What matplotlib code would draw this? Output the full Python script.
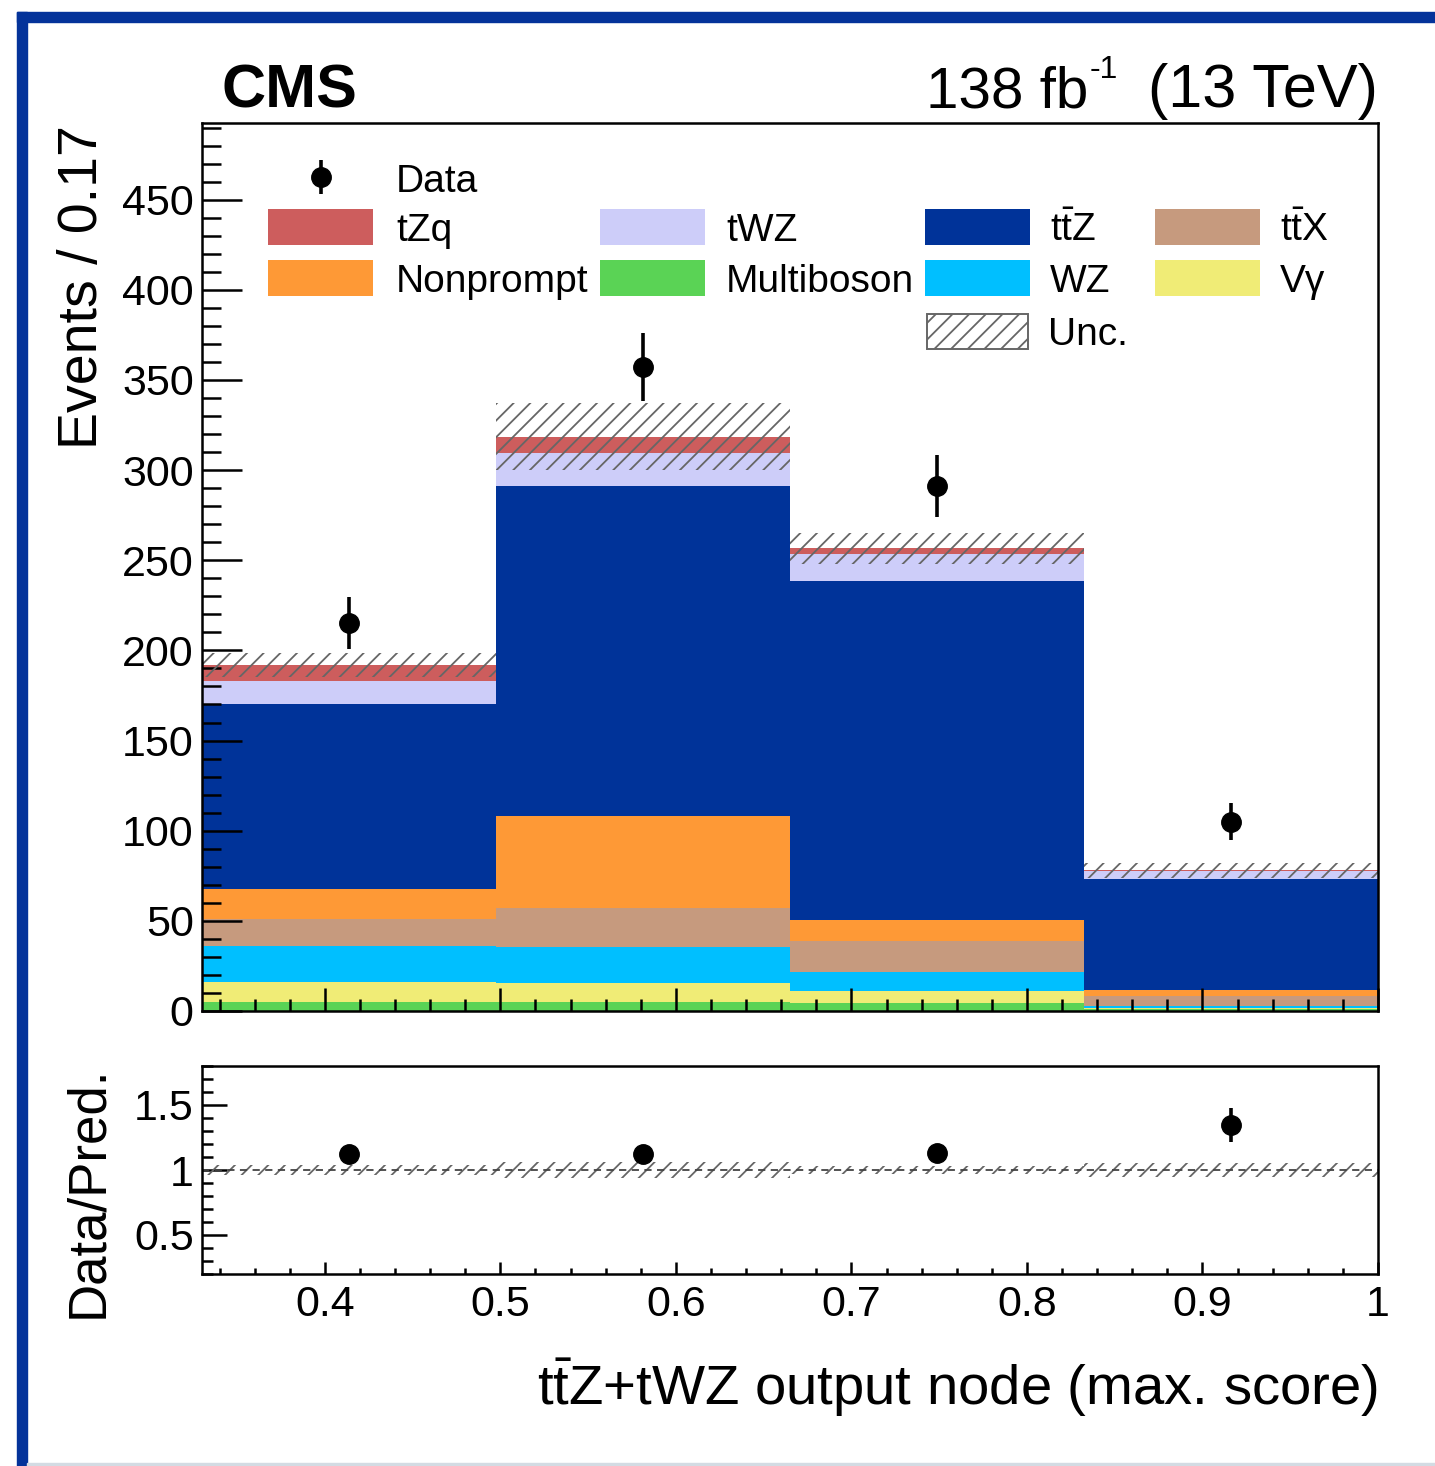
import numpy as np
import matplotlib
matplotlib.use("Agg")
import matplotlib.pyplot as plt
from matplotlib.patches import Rectangle
from matplotlib.ticker import MultipleLocator

plt.rcParams['font.family'] = ['Liberation Sans', 'DejaVu Sans']
plt.rcParams['mathtext.fontset'] = 'custom'
plt.rcParams['mathtext.rm'] = 'Liberation Sans'
plt.rcParams['mathtext.it'] = 'Liberation Sans:italic'
plt.rcParams['mathtext.bf'] = 'Liberation Sans:bold'
plt.rcParams['hatch.linewidth'] = 1.3

# binning of the classifier output
edges = [0.33, 0.4975, 0.665, 0.8325, 1.0]

# background / signal yields per bin (stack order, bottom -> top)
multiboson = [5.0, 5.0, 4.6, 0.9]
vgamma = [11.3, 10.7, 6.5, 0.8]
wz = [19.7, 20.0, 10.7, 1.2]
ttx = [15.0, 21.3, 17.0, 5.6]
nonprompt = [16.7, 51.1, 11.7, 3.1]
ttz = [102.6, 183.0, 188.0, 61.6]
twz = [12.7, 18.6, 15.0, 4.4]
tzq = [9.0, 8.8, 3.1, 0.4]

# total prediction uncertainty
unc = [6.8, 18.6, 8.5, 4.2]

# observed data
data = [215.0, 357.0, 291.0, 105.0]
data_err = [14.5, 18.9, 17.1, 10.2]

c_multiboson = '#5ad355'
c_vgamma = '#f0ec76'
c_wz = '#00bfff'
c_ttx = '#c69a7e'
c_nonprompt = '#fe9936'
c_ttz = '#003399'
c_twz = '#cdcdf9'
c_tzq = '#cd5d5d'
c_frame = '#04339a'
c_hatch = '#666666'

stack = [
    (multiboson, c_multiboson),
    (vgamma, c_vgamma),
    (wz, c_wz),
    (ttx, c_ttx),
    (nonprompt, c_nonprompt),
    (ttz, c_ttz),
    (twz, c_twz),
    (tzq, c_tzq),
]

W, H = 1435, 1466
fig = plt.figure(figsize=(W / 100, H / 100), dpi=100)

# outer frame (left and top bars)
fig.patches.append(Rectangle((17 / W, 0), 10 / W, 1 - 12 / H, transform=fig.transFigure,
                             color=c_frame, zorder=0))
fig.patches.append(Rectangle((17 / W, 1 - 22 / H), 1 - 17 / W, 10 / H, transform=fig.transFigure,
                             color=c_frame, zorder=0))
fig.patches.append(Rectangle((27 / W, 0), 1 - 27 / W, 3 / H, transform=fig.transFigure,
                             color='#d3dbe3', zorder=0))

ax = fig.add_axes([202 / W, 1 - 1011 / H, 1176 / W, 888 / H])
axr = fig.add_axes([202 / W, 1 - 1274 / H, 1176 / W, 208 / H])

edges_a = np.array(edges)
centers = 0.5 * (edges_a[1:] + edges_a[:-1])

bottom = np.zeros(len(data))
for vals, col in stack:
    vals = np.array(vals)
    ax.stairs(bottom + vals, edges_a, baseline=bottom, fill=True, color=col, lw=0)
    bottom = bottom + vals
total = bottom
unc_a = np.array(unc)

ax.stairs(total + unc_a, edges_a, baseline=total - unc_a, fill=True, facecolor='none',
          edgecolor=c_hatch, hatch='//', lw=0, zorder=3)

ax.errorbar(centers, data, yerr=data_err, fmt='o', color='k', ms=14,
            elinewidth=2.6, capsize=0, zorder=5)

ax.set_xlim(0.33, 1.0)
ax.set_ylim(0, 492.5)
ax.yaxis.set_major_locator(MultipleLocator(50))
ax.yaxis.set_minor_locator(MultipleLocator(10))
ax.xaxis.set_major_locator(MultipleLocator(0.1))
ax.xaxis.set_minor_locator(MultipleLocator(0.02))
ax.tick_params(axis='y', which='major', direction='in', length=29, width=1.8, labelsize=31, pad=6)
ax.tick_params(axis='y', which='minor', direction='in', length=14, width=1.8)
ax.tick_params(axis='x', which='major', direction='in', length=16.5, width=1.8, labelbottom=False)
ax.tick_params(axis='x', which='minor', direction='in', length=8.5, width=1.8)
for s in ax.spines.values():
    s.set_linewidth(1.8)
    s.set_zorder(6)

# ratio panel
ratio = np.array(data) / total
ratio_err = np.array(data_err) / total
rel_unc = unc_a / total
axr.stairs(1 + rel_unc, edges_a, baseline=1 - rel_unc, fill=True, facecolor='none',
           edgecolor=c_hatch, hatch='//', lw=0, zorder=2)
axr.axhline(1.0, color='#444444', lw=1.3, ls=(0, (4, 3)), zorder=2)
axr.errorbar(centers, ratio, yerr=ratio_err, fmt='o', color='k', ms=14,
             elinewidth=2.6, capsize=0, zorder=5)
axr.set_xlim(0.33, 1.0)
axr.set_ylim(0.2, 1.8)
axr.yaxis.set_major_locator(MultipleLocator(0.5))
axr.yaxis.set_minor_locator(MultipleLocator(0.1))
axr.xaxis.set_major_locator(MultipleLocator(0.1))
axr.xaxis.set_minor_locator(MultipleLocator(0.02))
axr.set_yticks([0.5, 1.0, 1.5])
axr.set_yticklabels(['0.5', '1', '1.5'])
axr.set_xticks([0.4, 0.5, 0.6, 0.7, 0.8, 0.9, 1.0])
axr.set_xticklabels(['0.4', '0.5', '0.6', '0.7', '0.8', '0.9', '1'])
axr.tick_params(axis='y', which='major', direction='in', length=18, width=1.8, labelsize=31, pad=6)
axr.tick_params(axis='y', which='minor', direction='in', length=8, width=1.8)
axr.tick_params(axis='x', which='major', direction='in', length=9, width=1.8, labelsize=31, pad=8)
axr.tick_params(axis='x', which='minor', direction='in', length=4.5, width=1.8)
for s in axr.spines.values():
    s.set_linewidth(1.8)

# axis titles
fig.text(97 / W, 1 - 125 / H, 'Events / 0.17', rotation=90, rotation_mode='anchor',
         ha='right', va='baseline', fontsize=40)
fig.text(102 / W, 1 - 1066 / H, 'Data/Pred.', rotation=90, rotation_mode='anchor',
         ha='right', va='baseline', fontsize=38)
fig.text(1378 / W, 1 - 1405 / H, r't$\bar{\mathrm{t}}$Z+tWZ output node (max. score)',
         ha='right', va='baseline', fontsize=40.5)

# header
fig.text(222 / W, 1 - 107 / H, 'CMS', ha='left', va='baseline', fontsize=44, fontweight='bold')
fig.text(1088 / W, 1 - 107 / H, '138 fb', ha='right', va='baseline', fontsize=42)
fig.text(1090 / W, 1 - 78 / H, '-1', ha='left', va='baseline', fontsize=23)
fig.text(1378 / W, 1 - 107 / H, '(13 TeV)', ha='right', va='baseline', fontsize=44)

# legend
box_x = [268, 600, 925, 1155]
text_x = [396, 726, 1050, 1280]
legend_rows = [
    [('tZq', c_tzq), ('tWZ', c_twz), (r't$\bar{\mathrm{t}}$Z', c_ttz), (r't$\bar{\mathrm{t}}$X', c_ttx)],
    [('Nonprompt', c_nonprompt), ('Multiboson', c_multiboson), ('WZ', c_wz), ('V\u03b3', c_vgamma)],
]
row_top = [209, 260]
row_base = [241, 292]
for r, row in enumerate(legend_rows):
    for c, (lab, col) in enumerate(row):
        fig.patches.append(Rectangle((box_x[c] / W, 1 - (row_top[r] + 36) / H), 105 / W, 36 / H,
                                     transform=fig.transFigure, facecolor=col, edgecolor='none'))
        fig.text(text_x[c] / W, 1 - row_base[r] / H, lab, ha='left', va='baseline', fontsize=28)

fig.patches.append(Rectangle((927 / W, 1 - 349 / H), 101 / W, 35 / H, transform=fig.transFigure,
                             facecolor='none', edgecolor=c_hatch, hatch='//', lw=1.4))
fig.text(1048 / W, 1 - 345 / H, 'Unc.', ha='left', va='baseline', fontsize=28)

lg = fig.add_axes([0, 0, 1, 1], facecolor='none')
lg.set_xlim(0, W)
lg.set_ylim(H, 0)
lg.axis('off')
lg.errorbar([321], [177], yerr=[[17], [17]], fmt='o', color='k', ms=14, elinewidth=2.6, capsize=0)
fig.text(396 / W, 1 - 192 / H, 'Data', ha='left', va='baseline', fontsize=28)

fig.savefig('out.png', dpi=100)
